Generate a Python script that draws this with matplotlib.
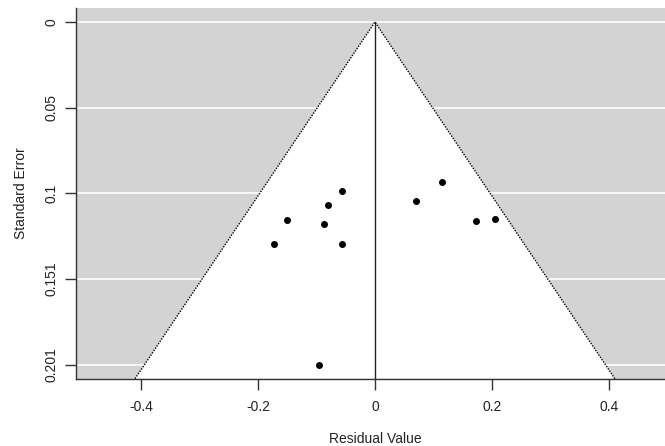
import numpy as np
import matplotlib
matplotlib.use("Agg")
import matplotlib.pyplot as plt
from matplotlib.patches import Polygon

plt.rcParams['font.family'] = ['Liberation Sans', 'DejaVu Sans']

# residuals and standard errors
resid = [-0.0564, 0.115, -0.0803, -0.150, -0.0867, 0.0696, 0.173, 0.2056, -0.1726, -0.0564, -0.0962]
se = [0.0994, 0.0939, 0.1076, 0.1159, 0.1184, 0.1048, 0.1165, 0.1157, 0.1302, 0.1302, 0.2012]

yticks = [0, 0.0503, 0.1006, 0.1509, 0.2012]
ylabels = ['0', '0.05', '0.1', '0.151', '0.201']
xticks = [-0.4, -0.2, 0, 0.2, 0.4]
xlabels = ['-0.4', '-0.2', '0', '0.2', '0.4']

fig = plt.figure(figsize=(6.65, 4.46), dpi=100)
ax = fig.add_axes([0.1143, 0.1509, 0.899, 0.8305])

ymax = max(se)
pad = ymax * 0.04
ylo, yhi = -pad, ymax + pad
ax.set_xlim(-0.511, 0.511)
ax.set_ylim(yhi, ylo)

ax.set_facecolor('#d3d3d3')
for t in yticks:
    ax.axhline(t, color='white', lw=1.2, zorder=1)

# funnel region
z = 1.96
tri = Polygon([(-z * yhi, yhi), (0, 0), (z * yhi, yhi)], closed=True,
              facecolor='white', edgecolor='none', zorder=2)
ax.add_patch(tri)
ax.plot([-z * yhi, 0, z * yhi], [yhi, 0, yhi], color='black', lw=1, ls=(0, (1, 1)), zorder=3)
ax.plot([0, 0], [0, yhi], color='#222222', lw=1, zorder=3)

ax.scatter(resid, se, s=16, color='black', zorder=4)

ax.set_xticks(xticks)
ax.set_xticklabels(xlabels)
ax.set_yticks(yticks)
ax.set_yticklabels(ylabels, rotation=90, va='center')
ax.tick_params(axis='both', length=8, width=1, color='#333333', labelsize=10, labelcolor='#222222')
ax.tick_params(axis='x', pad=7)
ax.tick_params(axis='y', pad=4.5)

for s in ['top', 'right']:
    ax.spines[s].set_visible(False)
for s in ['left', 'bottom']:
    ax.spines[s].set_color('#333333')
    ax.spines[s].set_linewidth(1)

ax.set_xlabel('Residual Value', fontsize=10, color='#222222', labelpad=13)
ax.set_ylabel('Standard Error', fontsize=10, color='#222222', labelpad=12)

plt.savefig('out.png', dpi=100)
